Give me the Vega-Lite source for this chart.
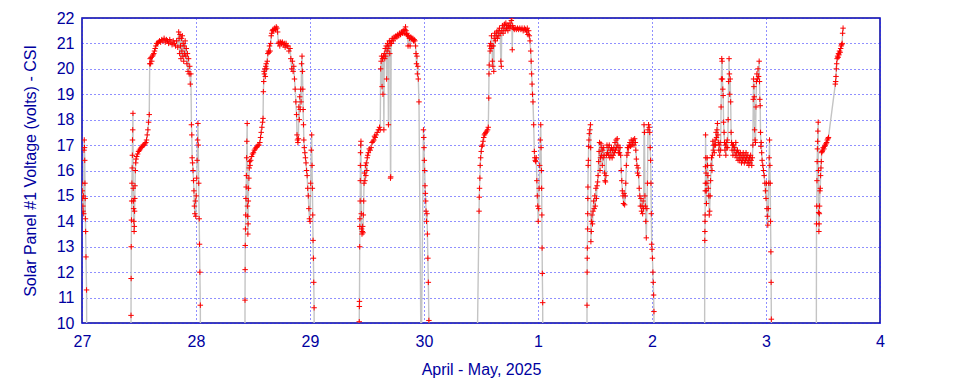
{
"$schema": "https://vega.github.io/schema/vega-lite/v6.json",
"autosize": "none",
"width": 798,
"height": 305,
"padding": {"left": 82, "top": 18, "right": 80, "bottom": 61},
"background": "white",
"config": {
  "font": "Liberation Sans",
  "view": {"stroke": "#0000a0", "strokeWidth": 1.5},
  "axis": {"labelColor": "#0000a0", "titleColor": "#0000a0", "labelFontSize": 16, "titleFontSize": 16, "titleFontWeight": "normal", "labelFont": "Liberation Sans", "titleFont": "Liberation Sans", "domain": false, "ticks": false, "tickSize": 0, "grid": true, "gridColor": "#2020ff", "gridDash": [1, 3], "gridOpacity": 1, "gridWidth": 1}
},
"data": {"values": [
{"d":0.000,"v":15.5},{"d":0.003,"v":15.2},{"d":0.006,"v":14.9},{"d":0.008,"v":14.6},{"d":0.010,"v":14.4},{"d":0.012,"v":15.0},{"d":0.015,"v":14.3},{"d":0.018,"v":16.8},{"d":0.020,"v":17.2},{"d":0.022,"v":16.9},{"d":0.024,"v":16.4},{"d":0.026,"v":15.5},{"d":0.028,"v":14.9},{"d":0.030,"v":14.1},{"d":0.032,"v":13.6},{"d":0.035,"v":12.6},{"d":0.040,"v":11.3},{"d":0.045,"v":5},
{"d":0.428,"v":5},{"d":0.430,"v":10.3},{"d":0.431,"v":11.75},{"d":0.432,"v":13.0},{"d":0.434,"v":14.05},{"d":0.436,"v":14.8},{"d":0.438,"v":15.5},{"d":0.440,"v":16.1},{"d":0.442,"v":16.6},{"d":0.443,"v":17.2},{"d":0.445,"v":17.6},{"d":0.447,"v":18.25},{"d":0.449,"v":15.3},{"d":0.451,"v":14.8},{"d":0.453,"v":14.5},{"d":0.455,"v":14.0},{"d":0.457,"v":13.6},{"d":0.459,"v":13.8},{"d":0.461,"v":14.4},{"d":0.463,"v":14.9},{"d":0.465,"v":15.4},{"d":0.468,"v":16.0},{"d":0.471,"v":16.3},{"d":0.474,"v":16.45},{"d":0.480,"v":16.55},{"d":0.488,"v":16.65},{"d":0.496,"v":16.75},{"d":0.504,"v":16.8},{"d":0.512,"v":16.85},{"d":0.520,"v":16.9},{"d":0.528,"v":16.95},{"d":0.536,"v":17.0},{"d":0.544,"v":17.0},{"d":0.552,"v":17.05},{"d":0.560,"v":17.1},{"d":0.566,"v":17.2},{"d":0.572,"v":17.4},{"d":0.578,"v":17.6},{"d":0.584,"v":17.9},{"d":0.590,"v":18.2},{"d":0.594,"v":20.2},{"d":0.598,"v":20.4},{"d":0.602,"v":20.2},{"d":0.606,"v":20.45},{"d":0.612,"v":20.3},{"d":0.618,"v":20.5},{"d":0.624,"v":20.55},{"d":0.630,"v":20.6},{"d":0.636,"v":20.7},{"d":0.642,"v":20.8},{"d":0.648,"v":20.9},{"d":0.655,"v":21.0},{"d":0.662,"v":21.0},{"d":0.670,"v":21.05},{"d":0.680,"v":21.1},{"d":0.690,"v":21.05},{"d":0.700,"v":21.15},{"d":0.710,"v":21.1},{"d":0.720,"v":21.2},{"d":0.730,"v":21.05},{"d":0.740,"v":21.15},{"d":0.750,"v":21.1},{"d":0.760,"v":21.0},{"d":0.770,"v":21.15},{"d":0.780,"v":21.05},{"d":0.790,"v":20.95},{"d":0.800,"v":21.1},{"d":0.810,"v":21.0},{"d":0.820,"v":20.9},{"d":0.830,"v":21.1},{"d":0.840,"v":20.85},{"d":0.848,"v":21.45},{"d":0.852,"v":21.2},{"d":0.856,"v":20.6},{"d":0.860,"v":21.35},{"d":0.864,"v":20.9},{"d":0.868,"v":20.4},{"d":0.872,"v":21.2},{"d":0.876,"v":20.7},{"d":0.880,"v":21.3},{"d":0.884,"v":20.5},{"d":0.888,"v":21.0},{"d":0.892,"v":20.3},{"d":0.896,"v":20.9},{"d":0.900,"v":20.6},{"d":0.905,"v":21.1},{"d":0.910,"v":20.5},{"d":0.915,"v":20.8},{"d":0.920,"v":20.2},{"d":0.925,"v":20.6},{"d":0.930,"v":19.9},{"d":0.935,"v":20.4},{"d":0.940,"v":19.8},{"d":0.945,"v":20.1},{"d":0.950,"v":19.4},{"d":0.955,"v":19.8},{"d":0.960,"v":17.8},{"d":0.963,"v":17.4},{"d":0.966,"v":16.5},{"d":0.970,"v":16.3},{"d":0.974,"v":16.0},{"d":0.978,"v":15.6},{"d":0.982,"v":15.2},{"d":0.986,"v":14.6},{"d":0.990,"v":14.3},{"d":0.994,"v":14.8},{"d":0.998,"v":14.2},{"d":1.002,"v":15.0},{"d":1.006,"v":15.7},{"d":1.010,"v":16.4},{"d":1.014,"v":17.2},{"d":1.017,"v":17.85},{"d":1.020,"v":17.0},{"d":1.024,"v":15.5},{"d":1.028,"v":14.1},{"d":1.031,"v":13.1},{"d":1.034,"v":12.0},{"d":1.038,"v":10.7},{"d":1.042,"v":5},
{"d":1.428,"v":5},{"d":1.430,"v":10.9},{"d":1.431,"v":12.1},{"d":1.432,"v":13.05},{"d":1.434,"v":13.7},{"d":1.436,"v":14.25},{"d":1.438,"v":14.9},{"d":1.440,"v":15.35},{"d":1.442,"v":15.8},{"d":1.444,"v":16.5},{"d":1.446,"v":17.15},{"d":1.449,"v":17.85},{"d":1.451,"v":14.6},{"d":1.453,"v":14.2},{"d":1.455,"v":13.5},{"d":1.457,"v":13.9},{"d":1.459,"v":14.8},{"d":1.461,"v":15.3},{"d":1.464,"v":15.7},{"d":1.467,"v":16.1},{"d":1.470,"v":16.35},{"d":1.474,"v":16.2},{"d":1.480,"v":16.4},{"d":1.488,"v":16.55},{"d":1.496,"v":16.65},{"d":1.504,"v":16.7},{"d":1.512,"v":16.8},{"d":1.520,"v":16.85},{"d":1.528,"v":16.9},{"d":1.536,"v":16.95},{"d":1.544,"v":17.0},{"d":1.552,"v":17.0},{"d":1.560,"v":17.1},{"d":1.566,"v":17.3},{"d":1.572,"v":17.5},{"d":1.578,"v":17.7},{"d":1.584,"v":17.9},{"d":1.588,"v":18.05},{"d":1.591,"v":19.1},{"d":1.594,"v":19.5},{"d":1.597,"v":19.9},{"d":1.600,"v":19.8},{"d":1.604,"v":20.0},{"d":1.608,"v":19.7},{"d":1.612,"v":20.1},{"d":1.616,"v":20.2},{"d":1.620,"v":20.0},{"d":1.625,"v":20.3},{"d":1.630,"v":20.6},{"d":1.635,"v":20.7},{"d":1.640,"v":20.65},{"d":1.645,"v":20.9},{"d":1.650,"v":20.7},{"d":1.655,"v":21.0},{"d":1.660,"v":21.3},{"d":1.664,"v":21.4},{"d":1.670,"v":21.5},{"d":1.676,"v":21.55},{"d":1.682,"v":21.5},{"d":1.690,"v":21.6},{"d":1.698,"v":21.55},{"d":1.704,"v":21.65},{"d":1.710,"v":21.6},{"d":1.716,"v":21.45},{"d":1.722,"v":21.0},{"d":1.728,"v":21.05},{"d":1.735,"v":20.9},{"d":1.742,"v":21.05},{"d":1.750,"v":21.0},{"d":1.758,"v":21.05},{"d":1.766,"v":20.95},{"d":1.774,"v":21.0},{"d":1.782,"v":20.85},{"d":1.790,"v":21.0},{"d":1.798,"v":20.9},{"d":1.806,"v":20.9},{"d":1.815,"v":20.7},{"d":1.825,"v":20.8},{"d":1.832,"v":20.4},{"d":1.840,"v":20.0},{"d":1.846,"v":20.3},{"d":1.852,"v":19.9},{"d":1.858,"v":20.1},{"d":1.864,"v":19.6},{"d":1.870,"v":19.2},{"d":1.876,"v":18.7},{"d":1.882,"v":18.2},{"d":1.886,"v":17.4},{"d":1.890,"v":17.2},{"d":1.894,"v":17.1},{"d":1.898,"v":17.25},{"d":1.902,"v":18.5},{"d":1.906,"v":18.0},{"d":1.910,"v":18.9},{"d":1.914,"v":18.4},{"d":1.918,"v":19.2},{"d":1.922,"v":18.7},{"d":1.926,"v":20.2},{"d":1.930,"v":20.5},{"d":1.934,"v":19.9},{"d":1.937,"v":19.2},{"d":1.940,"v":18.4},{"d":1.943,"v":17.8},{"d":1.946,"v":17.2},{"d":1.950,"v":16.9},{"d":1.955,"v":16.7},{"d":1.960,"v":16.5},{"d":1.965,"v":16.3},{"d":1.970,"v":16.0},{"d":1.975,"v":15.8},{"d":1.980,"v":15.3},{"d":1.985,"v":15.0},{"d":1.990,"v":14.5},{"d":1.995,"v":14.1},{"d":2.000,"v":14.0},{"d":2.006,"v":15.5},{"d":2.011,"v":16.8},{"d":2.015,"v":17.4},{"d":2.018,"v":16.2},{"d":2.021,"v":15.3},{"d":2.024,"v":14.25},{"d":2.027,"v":13.25},{"d":2.030,"v":12.55},{"d":2.033,"v":11.6},{"d":2.036,"v":10.6},{"d":2.040,"v":5},
{"d":2.430,"v":5},{"d":2.432,"v":10.05},{"d":2.433,"v":10.65},{"d":2.434,"v":10.85},{"d":2.436,"v":13.0},{"d":2.437,"v":13.8},{"d":2.438,"v":14.1},{"d":2.440,"v":14.8},{"d":2.441,"v":15.6},{"d":2.442,"v":16.2},{"d":2.443,"v":16.7},{"d":2.445,"v":17.0},{"d":2.447,"v":17.15},{"d":2.450,"v":14.3},{"d":2.453,"v":13.7},{"d":2.456,"v":13.5},{"d":2.459,"v":13.6},{"d":2.462,"v":13.8},{"d":2.465,"v":13.55},{"d":2.468,"v":14.25},{"d":2.471,"v":14.8},{"d":2.474,"v":15.5},{"d":2.478,"v":15.9},{"d":2.482,"v":15.6},{"d":2.486,"v":16.2},{"d":2.490,"v":15.8},{"d":2.494,"v":16.3},{"d":2.498,"v":16.0},{"d":2.502,"v":16.5},{"d":2.506,"v":16.6},{"d":2.512,"v":16.7},{"d":2.520,"v":16.85},{"d":2.528,"v":16.8},{"d":2.536,"v":16.9},{"d":2.544,"v":17.1},{"d":2.552,"v":17.15},{"d":2.560,"v":17.2},{"d":2.566,"v":17.35},{"d":2.572,"v":17.3},{"d":2.580,"v":17.4},{"d":2.590,"v":17.5},{"d":2.600,"v":17.6},{"d":2.610,"v":17.7},{"d":2.616,"v":17.6},{"d":2.620,"v":20.0},{"d":2.624,"v":20.3},{"d":2.628,"v":20.5},{"d":2.632,"v":19.3},{"d":2.636,"v":20.4},{"d":2.640,"v":19.0},{"d":2.644,"v":20.5},{"d":2.648,"v":17.6},{"d":2.652,"v":20.6},{"d":2.656,"v":20.4},{"d":2.660,"v":20.8},{"d":2.664,"v":20.5},{"d":2.668,"v":20.9},{"d":2.672,"v":19.6},{"d":2.676,"v":20.7},{"d":2.680,"v":21.0},{"d":2.684,"v":20.8},{"d":2.688,"v":17.8},{"d":2.692,"v":20.9},{"d":2.696,"v":21.1},{"d":2.700,"v":20.6},{"d":2.704,"v":21.0},{"d":2.706,"v":15.7},{"d":2.708,"v":15.75},{"d":2.712,"v":21.1},{"d":2.716,"v":21.0},{"d":2.722,"v":21.2},{"d":2.730,"v":21.1},{"d":2.738,"v":21.25},{"d":2.746,"v":21.2},{"d":2.754,"v":21.3},{"d":2.762,"v":21.25},{"d":2.770,"v":21.35},{"d":2.778,"v":21.3},{"d":2.786,"v":21.4},{"d":2.794,"v":21.35},{"d":2.802,"v":21.45},{"d":2.810,"v":21.4},{"d":2.818,"v":21.5},{"d":2.826,"v":21.4},{"d":2.832,"v":21.55},{"d":2.838,"v":21.65},{"d":2.842,"v":21.5},{"d":2.846,"v":21.35},{"d":2.850,"v":21.4},{"d":2.856,"v":21.3},{"d":2.860,"v":20.9},{"d":2.866,"v":21.3},{"d":2.872,"v":21.2},{"d":2.878,"v":20.9},{"d":2.884,"v":21.25},{"d":2.890,"v":21.2},{"d":2.896,"v":21.15},{"d":2.902,"v":21.2},{"d":2.908,"v":21.1},{"d":2.914,"v":21.15},{"d":2.920,"v":21.1},{"d":2.926,"v":20.9},{"d":2.930,"v":20.6},{"d":2.934,"v":20.2},{"d":2.938,"v":20.5},{"d":2.942,"v":19.8},{"d":2.946,"v":20.1},{"d":2.950,"v":19.6},{"d":2.956,"v":18.7},{"d":2.975,"v":8},{"d":2.995,"v":17.6},{"d":2.998,"v":17.3},{"d":3.000,"v":16.9},{"d":3.003,"v":16.4},{"d":3.006,"v":16.0},{"d":3.009,"v":15.4},{"d":3.012,"v":15.1},{"d":3.015,"v":14.8},{"d":3.018,"v":14.4},{"d":3.022,"v":14.0},{"d":3.026,"v":14.3},{"d":3.030,"v":13.5},{"d":3.034,"v":12.55},{"d":3.038,"v":11.6},{"d":3.043,"v":10.1},{"d":3.048,"v":5},
{"d":3.455,"v":5},{"d":3.483,"v":14.4},{"d":3.485,"v":14.95},{"d":3.487,"v":15.3},{"d":3.490,"v":15.7},{"d":3.493,"v":16.2},{"d":3.497,"v":16.5},{"d":3.502,"v":16.75},{"d":3.507,"v":16.95},{"d":3.513,"v":17.0},{"d":3.518,"v":17.15},{"d":3.524,"v":17.3},{"d":3.530,"v":17.4},{"d":3.536,"v":17.45},{"d":3.542,"v":17.5},{"d":3.550,"v":17.55},{"d":3.558,"v":17.6},{"d":3.564,"v":17.7},{"d":3.568,"v":18.85},{"d":3.570,"v":19.8},{"d":3.572,"v":20.15},{"d":3.576,"v":20.9},{"d":3.580,"v":20.7},{"d":3.584,"v":21.0},{"d":3.588,"v":20.8},{"d":3.592,"v":21.3},{"d":3.596,"v":20.9},{"d":3.600,"v":20.3},{"d":3.604,"v":20.1},{"d":3.608,"v":20.9},{"d":3.612,"v":19.9},{"d":3.616,"v":21.2},{"d":3.620,"v":21.4},{"d":3.626,"v":21.1},{"d":3.632,"v":21.3},{"d":3.638,"v":21.45},{"d":3.644,"v":21.2},{"d":3.650,"v":21.5},{"d":3.656,"v":21.3},{"d":3.662,"v":21.6},{"d":3.668,"v":21.4},{"d":3.674,"v":20.3},{"d":3.678,"v":20.1},{"d":3.682,"v":21.5},{"d":3.688,"v":21.7},{"d":3.694,"v":21.4},{"d":3.700,"v":21.6},{"d":3.706,"v":21.75},{"d":3.712,"v":21.5},{"d":3.718,"v":21.8},{"d":3.724,"v":21.6},{"d":3.730,"v":21.7},{"d":3.736,"v":21.5},{"d":3.742,"v":21.7},{"d":3.748,"v":21.6},{"d":3.754,"v":21.8},{"d":3.760,"v":21.65},{"d":3.766,"v":21.9},{"d":3.770,"v":22.0},{"d":3.774,"v":20.75},{"d":3.778,"v":21.7},{"d":3.784,"v":21.6},{"d":3.792,"v":21.55},{"d":3.800,"v":21.6},{"d":3.810,"v":21.55},{"d":3.820,"v":21.6},{"d":3.830,"v":21.55},{"d":3.840,"v":21.6},{"d":3.850,"v":21.55},{"d":3.860,"v":21.6},{"d":3.870,"v":21.5},{"d":3.880,"v":21.6},{"d":3.890,"v":21.55},{"d":3.900,"v":21.45},{"d":3.906,"v":21.6},{"d":3.912,"v":21.35},{"d":3.918,"v":21.5},{"d":3.924,"v":21.3},{"d":3.930,"v":21.1},{"d":3.936,"v":20.7},{"d":3.940,"v":20.3},{"d":3.944,"v":19.8},{"d":3.948,"v":19.4},{"d":3.952,"v":19.0},{"d":3.956,"v":18.7},{"d":3.962,"v":17.8},{"d":3.968,"v":16.75},{"d":3.972,"v":16.5},{"d":3.976,"v":16.4},{"d":3.980,"v":16.35},{"d":3.985,"v":16.5},{"d":3.990,"v":15.6},{"d":3.994,"v":15.0},{"d":3.998,"v":14.6},{"d":4.002,"v":14.0},{"d":4.006,"v":14.5},{"d":4.010,"v":15.3},{"d":4.015,"v":16.2},{"d":4.020,"v":17.2},{"d":4.024,"v":17.8},{"d":4.027,"v":16.9},{"d":4.030,"v":16.0},{"d":4.032,"v":15.3},{"d":4.034,"v":14.25},{"d":4.036,"v":12.95},{"d":4.038,"v":11.95},{"d":4.041,"v":10.8},{"d":4.045,"v":5},
{"d":4.428,"v":5},{"d":4.430,"v":10.7},{"d":4.431,"v":12.0},{"d":4.432,"v":12.55},{"d":4.433,"v":12.95},{"d":4.435,"v":13.7},{"d":4.436,"v":14.3},{"d":4.437,"v":14.9},{"d":4.438,"v":15.35},{"d":4.440,"v":16.2},{"d":4.442,"v":16.4},{"d":4.444,"v":16.95},{"d":4.447,"v":17.2},{"d":4.450,"v":17.45},{"d":4.455,"v":17.6},{"d":4.460,"v":17.8},{"d":4.462,"v":16.9},{"d":4.464,"v":13.2},{"d":4.467,"v":13.6},{"d":4.470,"v":14.0},{"d":4.474,"v":14.25},{"d":4.478,"v":13.9},{"d":4.483,"v":14.4},{"d":4.488,"v":14.8},{"d":4.493,"v":14.5},{"d":4.498,"v":15.0},{"d":4.503,"v":14.6},{"d":4.508,"v":15.3},{"d":4.513,"v":14.9},{"d":4.518,"v":15.4},{"d":4.523,"v":15.55},{"d":4.527,"v":15.8},{"d":4.532,"v":16.35},{"d":4.536,"v":16.75},{"d":4.540,"v":17.1},{"d":4.544,"v":16.0},{"d":4.548,"v":16.5},{"d":4.552,"v":17.05},{"d":4.556,"v":16.6},{"d":4.560,"v":16.9},{"d":4.564,"v":16.2},{"d":4.568,"v":16.8},{"d":4.572,"v":16.5},{"d":4.576,"v":16.9},{"d":4.580,"v":16.6},{"d":4.584,"v":15.9},{"d":4.588,"v":15.6},{"d":4.592,"v":15.55},{"d":4.596,"v":15.8},{"d":4.600,"v":16.6},{"d":4.605,"v":17.0},{"d":4.610,"v":16.7},{"d":4.615,"v":16.9},{"d":4.620,"v":16.6},{"d":4.625,"v":17.0},{"d":4.630,"v":16.5},{"d":4.635,"v":16.8},{"d":4.640,"v":16.6},{"d":4.645,"v":16.9},{"d":4.650,"v":16.5},{"d":4.655,"v":16.8},{"d":4.660,"v":16.6},{"d":4.665,"v":16.9},{"d":4.670,"v":16.7},{"d":4.675,"v":17.1},{"d":4.680,"v":16.8},{"d":4.685,"v":17.2},{"d":4.690,"v":16.9},{"d":4.695,"v":17.25},{"d":4.700,"v":17.0},{"d":4.705,"v":16.7},{"d":4.710,"v":16.9},{"d":4.715,"v":16.7},{"d":4.720,"v":16.9},{"d":4.725,"v":16.6},{"d":4.730,"v":16.0},{"d":4.735,"v":15.6},{"d":4.740,"v":15.2},{"d":4.745,"v":15.0},{"d":4.750,"v":14.7},{"d":4.755,"v":15.1},{"d":4.760,"v":14.65},{"d":4.765,"v":15.0},{"d":4.770,"v":15.5},{"d":4.775,"v":16.2},{"d":4.780,"v":16.6},{"d":4.785,"v":16.9},{"d":4.790,"v":16.7},{"d":4.795,"v":16.9},{"d":4.800,"v":17.0},{"d":4.806,"v":17.1},{"d":4.812,"v":16.95},{"d":4.818,"v":17.2},{"d":4.824,"v":17.0},{"d":4.830,"v":17.1},{"d":4.836,"v":17.2},{"d":4.842,"v":17.0},{"d":4.848,"v":17.25},{"d":4.854,"v":17.1},{"d":4.858,"v":16.8},{"d":4.863,"v":16.45},{"d":4.868,"v":16.2},{"d":4.873,"v":15.9},{"d":4.878,"v":16.1},{"d":4.883,"v":15.8},{"d":4.888,"v":15.3},{"d":4.893,"v":15.0},{"d":4.898,"v":14.6},{"d":4.903,"v":14.9},{"d":4.908,"v":14.4},{"d":4.913,"v":14.6},{"d":4.918,"v":14.3},{"d":4.922,"v":14.8},{"d":4.926,"v":14.5},{"d":4.930,"v":17.8},{"d":4.934,"v":17.5},{"d":4.938,"v":15.0},{"d":4.942,"v":14.6},{"d":4.946,"v":14.0},{"d":4.950,"v":13.35},{"d":4.955,"v":14.5},{"d":4.960,"v":15.5},{"d":4.965,"v":17.6},{"d":4.970,"v":17.8},{"d":4.975,"v":17.7},{"d":4.980,"v":17.5},{"d":4.984,"v":16.9},{"d":4.988,"v":16.4},{"d":4.991,"v":15.5},{"d":4.994,"v":14.3},{"d":4.997,"v":13.1},{"d":5.000,"v":12.9},{"d":5.004,"v":12.55},{"d":5.008,"v":12.0},{"d":5.011,"v":11.6},{"d":5.014,"v":11.1},{"d":5.017,"v":10.45},{"d":5.021,"v":5},
{"d":5.460,"v":5},{"d":5.463,"v":13.25},{"d":5.464,"v":13.6},{"d":5.465,"v":14.0},{"d":5.466,"v":14.25},{"d":5.467,"v":15.2},{"d":5.468,"v":15.5},{"d":5.469,"v":16.15},{"d":5.470,"v":17.4},{"d":5.472,"v":16.5},{"d":5.474,"v":15.9},{"d":5.476,"v":15.2},{"d":5.478,"v":14.7},{"d":5.481,"v":15.5},{"d":5.484,"v":16.5},{"d":5.487,"v":16.2},{"d":5.490,"v":15.8},{"d":5.494,"v":15.3},{"d":5.498,"v":15.0},{"d":5.502,"v":14.25},{"d":5.506,"v":14.4},{"d":5.510,"v":15.0},{"d":5.514,"v":15.6},{"d":5.518,"v":16.2},{"d":5.522,"v":16.5},{"d":5.526,"v":16.0},{"d":5.530,"v":16.6},{"d":5.534,"v":17.15},{"d":5.538,"v":16.8},{"d":5.542,"v":17.0},{"d":5.546,"v":16.7},{"d":5.550,"v":17.0},{"d":5.554,"v":17.2},{"d":5.558,"v":17.0},{"d":5.562,"v":17.5},{"d":5.566,"v":17.3},{"d":5.570,"v":17.6},{"d":5.574,"v":17.85},{"d":5.578,"v":17.4},{"d":5.582,"v":17.1},{"d":5.586,"v":16.8},{"d":5.590,"v":17.0},{"d":5.594,"v":16.6},{"d":5.598,"v":17.1},{"d":5.602,"v":16.8},{"d":5.606,"v":18.5},{"d":5.609,"v":19.6},{"d":5.612,"v":20.4},{"d":5.615,"v":20.3},{"d":5.618,"v":19.6},{"d":5.621,"v":19.2},{"d":5.624,"v":18.95},{"d":5.628,"v":17.9},{"d":5.632,"v":17.5},{"d":5.636,"v":17.1},{"d":5.640,"v":16.8},{"d":5.644,"v":17.0},{"d":5.648,"v":16.6},{"d":5.652,"v":17.1},{"d":5.656,"v":16.9},{"d":5.660,"v":17.2},{"d":5.664,"v":16.9},{"d":5.668,"v":18.0},{"d":5.672,"v":19.5},{"d":5.676,"v":20.4},{"d":5.679,"v":19.8},{"d":5.682,"v":19.0},{"d":5.686,"v":19.6},{"d":5.690,"v":18.7},{"d":5.694,"v":17.5},{"d":5.698,"v":17.1},{"d":5.702,"v":16.8},{"d":5.706,"v":17.0},{"d":5.710,"v":16.6},{"d":5.715,"v":17.0},{"d":5.720,"v":16.8},{"d":5.725,"v":16.9},{"d":5.730,"v":16.6},{"d":5.735,"v":17.1},{"d":5.740,"v":16.7},{"d":5.745,"v":16.5},{"d":5.750,"v":16.8},{"d":5.755,"v":16.4},{"d":5.760,"v":16.7},{"d":5.765,"v":16.6},{"d":5.770,"v":16.4},{"d":5.775,"v":16.7},{"d":5.780,"v":16.5},{"d":5.785,"v":16.3},{"d":5.790,"v":16.6},{"d":5.795,"v":16.4},{"d":5.800,"v":16.7},{"d":5.805,"v":16.5},{"d":5.810,"v":16.3},{"d":5.815,"v":16.6},{"d":5.820,"v":16.4},{"d":5.825,"v":16.7},{"d":5.830,"v":16.5},{"d":5.835,"v":16.3},{"d":5.840,"v":16.6},{"d":5.845,"v":16.4},{"d":5.850,"v":16.2},{"d":5.855,"v":16.5},{"d":5.860,"v":16.3},{"d":5.865,"v":16.6},{"d":5.870,"v":16.4},{"d":5.875,"v":16.2},{"d":5.880,"v":16.5},{"d":5.885,"v":17.0},{"d":5.888,"v":18.8},{"d":5.891,"v":19.6},{"d":5.894,"v":19.3},{"d":5.897,"v":18.9},{"d":5.900,"v":17.6},{"d":5.904,"v":17.2},{"d":5.908,"v":17.1},{"d":5.912,"v":18.5},{"d":5.916,"v":19.5},{"d":5.920,"v":19.8},{"d":5.925,"v":19.6},{"d":5.930,"v":20.0},{"d":5.935,"v":19.7},{"d":5.940,"v":20.3},{"d":5.943,"v":19.5},{"d":5.946,"v":18.8},{"d":5.949,"v":18.55},{"d":5.952,"v":17.5},{"d":5.955,"v":16.95},{"d":5.958,"v":17.1},{"d":5.962,"v":16.7},{"d":5.966,"v":16.4},{"d":5.972,"v":16.2},{"d":5.978,"v":16.0},{"d":5.984,"v":15.8},{"d":5.990,"v":15.5},{"d":5.995,"v":15.2},{"d":6.000,"v":14.9},{"d":6.004,"v":15.5},{"d":6.008,"v":14.5},{"d":6.012,"v":14.2},{"d":6.016,"v":13.85},{"d":6.020,"v":14.5},{"d":6.024,"v":15.5},{"d":6.028,"v":16.5},{"d":6.031,"v":17.2},{"d":6.034,"v":16.2},{"d":6.037,"v":15.5},{"d":6.040,"v":14.0},{"d":6.043,"v":12.8},{"d":6.045,"v":11.6},{"d":6.047,"v":10.15},{"d":6.051,"v":5},
{"d":6.440,"v":5},{"d":6.443,"v":13.9},{"d":6.445,"v":14.6},{"d":6.447,"v":15.6},{"d":6.449,"v":16.35},{"d":6.451,"v":16.85},{"d":6.453,"v":17.15},{"d":6.455,"v":17.55},{"d":6.458,"v":17.9},{"d":6.460,"v":16.0},{"d":6.462,"v":14.35},{"d":6.464,"v":13.6},{"d":6.466,"v":13.9},{"d":6.468,"v":14.3},{"d":6.470,"v":14.6},{"d":6.473,"v":15.2},{"d":6.476,"v":15.3},{"d":6.479,"v":15.8},{"d":6.482,"v":16.1},{"d":6.485,"v":16.35},{"d":6.488,"v":16.7},{"d":6.492,"v":16.75},{"d":6.497,"v":16.8},{"d":6.502,"v":16.9},{"d":6.508,"v":16.85},{"d":6.514,"v":16.95},{"d":6.520,"v":17.0},{"d":6.526,"v":17.05},{"d":6.532,"v":17.1},{"d":6.538,"v":17.2},{"d":6.544,"v":17.25},{"d":6.548,"v":17.3},{"d":6.608,"v":19.4},{"d":6.611,"v":19.5},{"d":6.614,"v":19.7},{"d":6.617,"v":20.0},{"d":6.620,"v":20.2},{"d":6.624,"v":20.4},{"d":6.628,"v":20.5},{"d":6.632,"v":20.45},{"d":6.636,"v":20.6},{"d":6.640,"v":20.55},{"d":6.645,"v":20.7},{"d":6.650,"v":20.65},{"d":6.655,"v":20.8},{"d":6.660,"v":20.9},{"d":6.664,"v":20.95},{"d":6.668,"v":21.0},{"d":6.672,"v":21.4},{"d":6.676,"v":21.6}
]},
"encoding": {
  "x": {"field": "d", "type": "quantitative", "scale": {"domain": [0, 7], "nice": false, "zero": false},
        "axis": {"values": [0,1,2,3,4,5,6,7], "labelExpr": "['27','28','29','30','1','2','3','4'][datum.value]", "title": "April - May, 2025", "labelPadding": 10, "titlePadding": 12, "labelFlush": false}},
  "y": {"field": "v", "type": "quantitative", "scale": {"domain": [10, 22], "nice": false, "zero": false},
        "axis": {"values": [10,11,12,13,14,15,16,17,18,19,20,21,22], "title": "Solar Panel #1 Voltage (volts) - CSI", "labelPadding": 8, "titlePadding": 18}}
},
"layer": [
  {"mark": {"type": "line", "color": "#c4c4c4", "strokeWidth": 1.4, "clip": true, "interpolate": "linear"}},
  {"mark": {"type": "point", "shape": "M-1,0L1,0M0,-1L0,1", "size": 30, "filled": false, "stroke": "#ff0000", "strokeWidth": 1, "opacity": 1, "clip": true}}
]
}
